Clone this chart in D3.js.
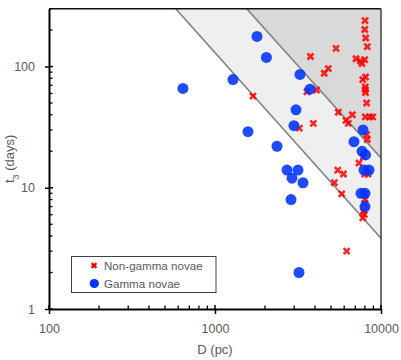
<!DOCTYPE html>
<html>
<head>
<meta charset="utf-8">
<script src="https://cdn.jsdelivr.net/npm/d3@7"></script>
<style>
body { margin: 0; background: #fff; }
text { font-family: "Liberation Sans", Arial, sans-serif; fill: #595959; }
</style>
</head>
<body>
<svg id="chart" width="401" height="360"></svg>
<script>
// Non-gamma novae: distance (pc) and t3 (days)
const nonGammaD = [1694, 3760, 5360, 4815, 4550, 4090, 3580, 3220, 3910, 5530, 6720, 6150, 6350,
    8040, 8550, 8910, 8200, 8270, 7370, 5490, 5940, 5230, 5800, 8010, 8010, 7950, 7930, 7760, 6210,
    8010, 7980, 8090, 8270, 7070, 7520, 7680, 7980, 7760, 8070, 8040, 8040, 8070, 8200, 7830,
    7980, 8350, 7850];
const nonGammaT3 = [57, 121, 141, 96, 88, 64, 62, 31, 34, 42, 40, 36, 34,
    38.4, 38.4, 38.4, 27.4, 25, 16, 14, 13, 11, 8.9, 8.9, 8, 7.4, 6, 5.65, 3,
    239, 202, 172, 146, 116, 111, 106, 114, 78, 82, 68, 64.6, 61, 50, 18,
    13, 13, 6.4];

// Gamma novae
const gammaD = [641, 1790, 2040, 1283, 3250, 3735, 3076, 2990, 1580, 2363, 7790, 6875, 7690,
    8070, 7900, 8470, 2715, 3162, 2910, 3390, 2870, 3206, 7580, 8010, 8010];
const gammaT3 = [66, 177, 119, 78, 86, 65, 44, 32.5, 29, 22, 30, 24, 20,
    18.7, 14, 14, 14, 14, 12, 11, 8, 2, 9, 9, 7];

const xTicks = [100, 1000, 10000];
const yTicks = [1, 10, 100];

// Boundary lines of the shaded zones: [D, t3] where they meet the frame
const lowerLine = [[580, 300], [10000, 3.84]];
const upperLine = [[1552, 300], [10000, 17.6]];

const legendItems = ["Non-gamma novae", "Gamma novae"];

const svg = d3.select("#chart");
const plotL = 49, plotR = 381, plotT = 8.7, plotB = 309;

const x = d3.scaleLog().domain([100, 10000]).range([plotL, plotR]);
const y = d3.scaleLog().domain([1, 300]).range([plotB, plotT]);

const xMax = x.domain()[1], yMax = y.domain()[1];
const toPx = p => [x(p[0]), y(p[1])];

// Shaded zones
svg.append("polygon")
    .attr("points", [lowerLine[0], upperLine[0], upperLine[1], lowerLine[1]].map(toPx).join(" "))
    .attr("fill", "#efefef");

svg.append("polygon")
    .attr("points", [upperLine[0], [xMax, yMax], upperLine[1]].map(toPx).join(" "))
    .attr("fill", "#d9d9d9");

[lowerLine, upperLine].forEach(l => {
    svg.append("line")
        .attr("x1", x(l[0][0])).attr("y1", y(l[0][1]))
        .attr("x2", x(l[1][0])).attr("y2", y(l[1][1]))
        .attr("stroke", "#808080")
        .attr("stroke-width", 1.6);
});

// Frame top and right
svg.append("line").attr("x1", plotL).attr("x2", plotR).attr("y1", plotT).attr("y2", plotT)
    .attr("stroke", "#111").attr("stroke-width", 1.5);
svg.append("line").attr("x1", plotR).attr("x2", plotR).attr("y1", plotT).attr("y2", plotB)
    .attr("stroke", "#404040").attr("stroke-width", 1.5);

// Minor ticks (inside)
svg.append("g").selectAll("line")
    .data(y.ticks().filter(v => !yTicks.includes(v)))
    .join("line")
    .attr("x1", plotL).attr("x2", plotL + 3.5)
    .attr("y1", d => y(d)).attr("y2", d => y(d))
    .attr("stroke", "#000").attr("stroke-width", 1.3);

svg.append("g").selectAll("line")
    .data(x.ticks().filter(v => !xTicks.includes(v)))
    .join("line")
    .attr("x1", d => x(d)).attr("x2", d => x(d))
    .attr("y1", plotB).attr("y2", plotB - 3.5)
    .attr("stroke", "#000").attr("stroke-width", 1.3);

// Major ticks cross the axis: inner half
svg.append("g").selectAll("line")
    .data(yTicks).join("line")
    .attr("x1", plotL).attr("x2", plotL + 4)
    .attr("y1", d => y(d)).attr("y2", d => y(d))
    .attr("stroke", "#000").attr("stroke-width", 1.5);
svg.append("g").selectAll("line")
    .data(xTicks).join("line")
    .attr("x1", d => x(d)).attr("x2", d => x(d))
    .attr("y1", plotB).attr("y2", plotB - 4)
    .attr("stroke", "#000").attr("stroke-width", 1.5);

const yAxis = svg.append("g")
    .attr("transform", `translate(${plotL},0)`)
    .call(d3.axisLeft(y).tickValues(yTicks).tickFormat(d3.format("d"))
        .tickSizeInner(4).tickSizeOuter(0).tickPadding(10));

const xAxis = svg.append("g")
    .attr("transform", `translate(0,${plotB})`)
    .call(d3.axisBottom(x).tickValues(xTicks).tickFormat(d3.format("d"))
        .tickSizeInner(5).tickSizeOuter(0).tickPadding(10));

[xAxis, yAxis].forEach(a => {
    a.select(".domain").attr("stroke", "#000").attr("stroke-width", 2);
    a.selectAll(".tick line").attr("stroke", "#000").attr("stroke-width", 1.5);
    a.selectAll(".tick text").attr("fill", "#595959").style("font-size", "12.5px")
        .style("font-family", '"Liberation Sans", Arial, sans-serif');
});

// Axis titles
svg.append("text")
    .attr("x", (plotL + plotR) / 2).attr("y", 354)
    .attr("text-anchor", "middle")
    .style("font-size", "13px")
    .text("D (pc)");

const yTitle = svg.append("text")
    .attr("transform", `translate(14,${(plotT + plotB) / 2}) rotate(-90)`)
    .attr("text-anchor", "middle")
    .style("font-size", "13px");
yTitle.append("tspan").text("t");
yTitle.append("tspan").attr("baseline-shift", "sub").style("font-size", "9px").text("3");
yTitle.append("tspan").text(" (days)");

// Markers
const cross = s => `M${-s},${-s}L${s},${s}M${-s},${s}L${s},${-s}`;

svg.append("g").selectAll("path")
    .data(d3.zip(nonGammaD, nonGammaT3)).join("path")
    .attr("transform", d => `translate(${x(d[0])},${y(d[1])})`)
    .attr("d", cross(3))
    .attr("stroke", "#ff0000")
    .attr("stroke-width", 2.6)
    .attr("opacity", 0.85)
    .attr("fill", "none");

svg.append("g").selectAll("circle")
    .data(d3.zip(gammaD, gammaT3)).join("circle")
    .attr("cx", d => x(d[0]))
    .attr("cy", d => y(d[1]))
    .attr("r", 5.5)
    .attr("fill", "#0033ff")
    .attr("opacity", 0.88);

// Legend
const legend = svg.append("g");
legend.append("rect")
    .attr("x", 71.5).attr("y", 256.5).attr("width", 144.5).attr("height", 36)
    .attr("fill", "#fff").attr("stroke", "#404040").attr("stroke-width", 1);

legendItems.forEach((name, i) => {
    const cy = 265.5 + i * 18;
    if (i === 0) {
        legend.append("path")
            .attr("transform", `translate(94,${cy})`)
            .attr("d", cross(2.4))
            .attr("stroke", "#ff0000").attr("stroke-width", 2.2).attr("fill", "none");
    } else {
        legend.append("circle")
            .attr("cx", 94.3).attr("cy", cy).attr("r", 4.6)
            .attr("fill", "#0033ff");
    }
    legend.append("text")
        .attr("x", 104).attr("y", cy + 4)
        .style("font-size", "11.6px")
        .text(name);
});
</script>
</body>
</html>
